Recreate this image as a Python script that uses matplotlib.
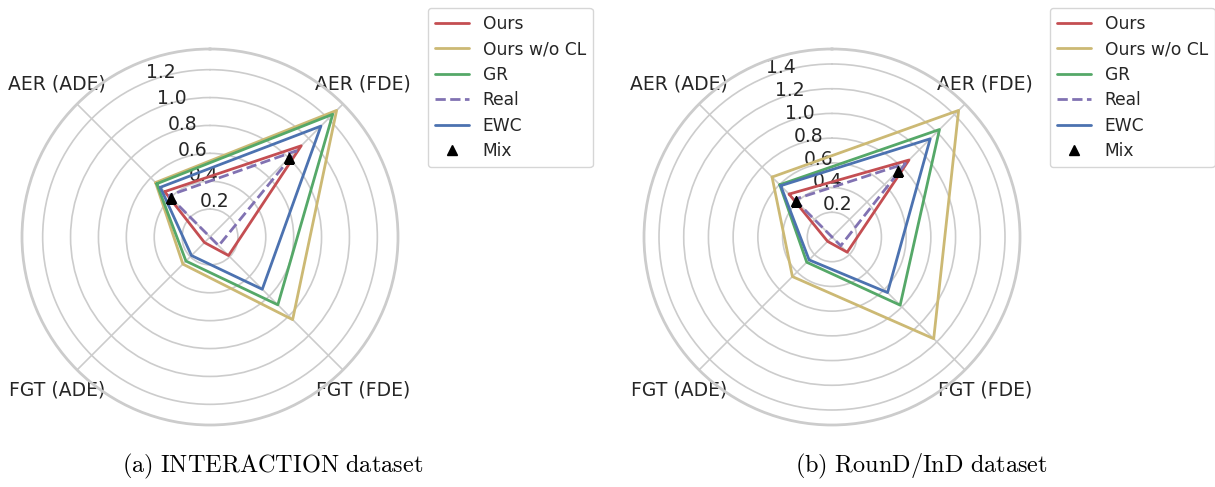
import numpy as np
import matplotlib
matplotlib.use("Agg")
import matplotlib.pyplot as plt
import seaborn as sns

sns.set_style("whitegrid")
plt.rcParams["mathtext.fontset"] = "cm"

categories = ["AER (ADE)", "FGT (ADE)", "FGT (FDE)", "AER (FDE)"]
methods = ["Ours", "Ours w/o CL", "GR", "Real", "EWC"]

# INTERACTION dataset
interaction_ours = [0.46, 0.056, 0.188, 0.925]
interaction_ours_wo_cl = [0.552, 0.275, 0.838, 1.284]
interaction_gr = [0.54, 0.244, 0.688, 1.245]
interaction_real = [0.42, 0.0, 0.088, 0.874]
interaction_ewc = [0.504, 0.188, 0.53, 1.125]
interaction_mix = [0.40, np.nan, np.nan, 0.80]

# RounD/InD dataset
round_ours = [0.491, 0.05, 0.174, 0.881]
round_ours_wo_cl = [0.686, 0.453, 1.164, 1.449]
round_gr = [0.598, 0.289, 0.78, 1.23]
round_real = [0.43, 0.0, 0.10, 0.84]
round_ewc = [0.587, 0.262, 0.636, 1.124]
round_mix = [0.414, np.nan, np.nan, 0.757]

interaction_ticks = [0.2, 0.4, 0.6, 0.8, 1.0, 1.2]
round_ticks = [0.2, 0.4, 0.6, 0.8, 1.0, 1.2, 1.4]

colors = ["#C44E52", "#CCB974", "#55A868", "#8172B2", "#4C72B0"]
styles = ["-", "-", "-", "--", "-"]


def radar(ax, series, mix, ticks, legend_xy):

    angles = np.pi / 4 + np.arange(len(categories)) * np.pi / 2
    closed = np.concatenate([angles, angles[:1]])

    ax.set_theta_offset(np.pi / 2)

    for name, vals, c, ls in zip(methods, series, colors, styles):
        v = np.concatenate([vals, vals[:1]])
        ax.plot(closed, v, color=c, linestyle=ls, linewidth=2.0, label=name)

    ax.plot(angles, mix, linestyle="none", marker="^", color="black",
            markersize=7.5, label="Mix")

    top = max(max(s) for s in series) * 1.05
    ax.set_ylim(0, top)
    ax.set_yticks(ticks)
    ax.set_yticklabels([f"{t:.1f}" for t in ticks], fontsize=13.5,
                       color="#262626")
    ax.set_rlabel_position(22.5)

    ax.set_xticks(angles)
    ax.set_xticklabels(categories, fontsize=13.5, color="#262626")
    ax.tick_params(axis="x", pad=10)

    ax.grid(color="#cccccc", linewidth=1.2)
    ax.spines["polar"].set_color("#cccccc")
    ax.spines["polar"].set_linewidth(2.0)

    ax.legend(
        loc="upper left",
        bbox_to_anchor=legend_xy,
        bbox_transform=ax.figure.transFigure,
        borderaxespad=0,
        fontsize=12.3,
        frameon=True,
        edgecolor="#cccccc",
        labelspacing=0.44,
    )


W, H = 1215, 487
fig = plt.figure(figsize=(W / 100, H / 100), dpi=100)

R = 188
ax1 = fig.add_axes([(210 - R) / W, (H - 237 - R) / H, 2 * R / W, 2 * R / H],
                   projection="polar")
ax2 = fig.add_axes([(832 - R) / W, (H - 237 - R) / H, 2 * R / W, 2 * R / H],
                   projection="polar")

radar(
    ax1,
    [interaction_ours, interaction_ours_wo_cl, interaction_gr,
     interaction_real, interaction_ewc],
    interaction_mix,
    interaction_ticks,
    (428 / W, 1 - 8 / H),
)

radar(
    ax2,
    [round_ours, round_ours_wo_cl, round_gr, round_real, round_ewc],
    round_mix,
    round_ticks,
    (1050 / W, 1 - 8 / H),
)

fig.text(273 / W, 1 - 466 / H, r"$\mathrm{(a)\ INTERACTION\ dataset}$",
         ha="center", va="center", fontsize=17.5, color="black")
fig.text(921 / W, 1 - 466 / H, r"$\mathrm{(b)\ RounD/InD\ dataset}$",
         ha="center", va="center", fontsize=17.5, color="black")

fig.savefig("out.png", dpi=100)
